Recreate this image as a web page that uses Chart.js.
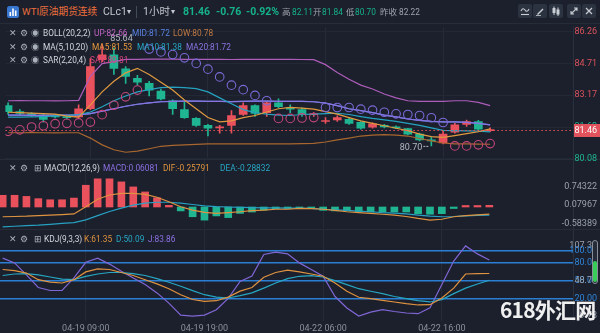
<!DOCTYPE html>
<html>
<head>
<meta charset="utf-8">
<script src="https://cdn.jsdelivr.net/npm/chart.js@4.4.1/dist/chart.umd.min.js"></script>
<style>
  html, body { margin: 0; padding: 0; background: #1b202c; }
  #wrap { position: relative; width: 600px; height: 333px; overflow: hidden; background: #1b202c;
          font-family: Roboto, "Noto Sans CJK SC", sans-serif; }
  canvas { position: absolute; left: 0; }
  .t { position: absolute; white-space: nowrap; line-height: 12px; }
  .btn { position: absolute; top: 4px; width: 14px; height: 14px; border-radius: 2px; background: #2b3341; }
  .btn svg { position: absolute; left: 2px; top: 2px; }
  .sep { position: absolute; left: 0; width: 600px; height: 1px; background: #262c38; }
</style>
</head>
<body>
<div id="wrap">
  <div class="sep" style="top:23px"></div>
  <div class="sep" style="top:159px"></div>
  <div class="sep" style="top:229px"></div>
  <canvas id="main" width="600" height="143" style="top:22px"></canvas>
  <canvas id="macd" width="600" height="70" style="top:159px"></canvas>
  <canvas id="kdj" width="600" height="104" style="top:229px"></canvas>

  <svg style="position:absolute;left:7px;top:6px" width="12" height="12">
    <rect width="12" height="12" rx="2.5" fill="#3877cf"/>
    <rect x="2.5" y="6" width="1.6" height="4" fill="#fff"/>
    <rect x="5.2" y="2.5" width="1.6" height="7.5" fill="#fff"/>
    <rect x="7.9" y="4.5" width="1.6" height="5.5" fill="#fff"/>
  </svg>
  <div style="position:absolute;left:136px;top:6px;width:1px;height:12px;background:#454c59"></div>

  <div class="btn" style="left:518px"><svg width="10" height="10"><path d="M1 5 Q3 1 5 4 T9 3" stroke="#c9cdd4" fill="none" stroke-width="1.1"/><path d="M1 8.5 H9" stroke="#c9cdd4" stroke-width="1.1"/></svg></div>
  <div class="btn" style="left:533px"><svg width="10" height="10"><path d="M2 8 L7.5 2.5 L8.5 3.5 L3 9 Z" fill="#c9cdd4"/><path d="M1 9.5 H6" stroke="#c9cdd4" stroke-width="0.8"/></svg></div>
  <div class="btn" style="left:549px"><svg width="10" height="10"><rect x="1.5" y="2" width="3" height="5" fill="#c9cdd4"/><path d="M3 0.5 V9" stroke="#c9cdd4"/><rect x="5.5" y="3.5" width="3" height="5" fill="#c9cdd4"/><path d="M7 1.5 V10" stroke="#c9cdd4"/></svg></div>
  <div class="btn" style="left:567px"><svg width="10" height="10"><path d="M2 8 L8 2 M5 2 H8 V5 M2 5 V8 H5" stroke="#c9cdd4" fill="none" stroke-width="1.1"/></svg></div>
  <div class="btn" style="left:582px"><svg width="10" height="10"><path d="M2 2 L8 8 M8 2 L2 8" stroke="#c9cdd4" stroke-width="1.2"/></svg></div>

  <div style="position:absolute;left:592px;top:240px;width:4px;height:42px;border:1px solid #8a909a;border-radius:3px;background:#262c37"></div>
  <div style="position:absolute;left:593px;top:261px;width:4px;height:21px;background:#38cc58;border-radius:2px"></div>
  <div style="position:absolute;left:500px;top:294px;font:bold 21px 'Noto Sans CJK SC';color:rgba(255,255,255,0.93);letter-spacing:-0.8px;white-space:nowrap">618外汇网</div>
</div>

<script>
// time axis
const timeLabels = ['04-19 09:00', '04-19 19:00', '04-22 06:00', '04-22 16:00'];
const timeTicks = [7, 17, 27, 37];

// candles (1h)
const open  = [82.66, 82.37, 82.28, 82.20, 82.16, 82.11, 82.11, 82.51, 84.90, 85.14, 84.45, 83.99, 83.75, 83.37, 82.90, 82.47, 82.04, 81.70, 81.58, 81.70, 82.23, 82.66, 82.32, 82.80, 82.56, 82.47, 82.22, 81.89, 81.97, 81.99, 81.85, 81.61, 81.70, 81.63, 81.54, 81.27, 80.99, 80.84, 81.37, 81.75, 81.89, 81.44];
const high  = [82.80, 82.47, 82.32, 82.28, 82.20, 82.16, 82.70, 84.95, 85.64, 85.47, 84.57, 84.14, 83.85, 83.47, 82.94, 82.85, 82.08, 81.75, 81.70, 82.42, 82.80, 82.70, 82.85, 82.99, 82.70, 82.56, 82.32, 82.08, 82.16, 82.04, 81.89, 81.82, 81.75, 81.68, 81.56, 81.32, 81.13, 81.42, 81.80, 81.96, 81.94, 81.58];
const low   = [82.23, 82.18, 82.13, 81.85, 82.06, 82.01, 82.08, 82.47, 84.81, 84.18, 83.75, 83.66, 83.13, 82.94, 82.23, 82.04, 81.65, 81.18, 81.32, 81.32, 82.18, 82.13, 82.13, 82.56, 82.32, 82.13, 82.14, 81.80, 81.89, 81.75, 81.51, 81.56, 81.58, 81.54, 81.23, 80.94, 80.70, 80.80, 81.32, 81.65, 81.46, 81.39];
const close = [82.37, 82.28, 82.20, 81.99, 82.11, 82.08, 82.51, 84.57, 85.14, 84.47, 84.09, 83.80, 83.42, 82.99, 82.51, 82.08, 81.70, 81.56, 81.61, 82.18, 82.66, 82.28, 82.80, 82.61, 82.49, 82.23, 82.27, 81.92, 82.08, 81.80, 81.56, 81.77, 81.63, 81.58, 81.27, 80.99, 80.94, 81.27, 81.73, 81.89, 81.51, 81.46];
const prevClose = 82.22;

// MA / BOLL / SAR
const ma5  = [82.34, 82.32, 82.30, 82.27, 82.25, 82.15, 82.10, 82.70, 83.33, 83.85, 84.26, 84.48, 84.18, 83.80, 83.42, 82.94, 82.51, 82.08, 81.87, 81.92, 82.08, 82.18, 82.35, 82.51, 82.58, 82.54, 82.49, 82.37, 82.25, 82.08, 81.92, 81.80, 81.68, 81.56, 81.44, 81.27, 81.15, 81.11, 81.20, 81.30, 81.39, 81.53];
const ma10 = [82.10, 82.10, 82.11, 82.13, 82.16, 82.18, 82.23, 82.35, 82.61, 82.90, 83.13, 83.33, 83.44, 83.54, 83.56, 83.54, 83.49, 83.33, 83.04, 82.75, 82.47, 82.32, 82.25, 82.20, 82.18, 82.23, 82.25, 82.27, 82.29, 82.23, 82.13, 82.04, 81.97, 81.89, 81.80, 81.70, 81.58, 81.46, 81.44, 81.43, 81.42, 81.38];
const ma20 = [82.20, 82.20, 82.19, 82.19, 82.20, 82.20, 82.21, 82.27, 82.39, 82.51, 82.63, 82.73, 82.80, 82.85, 82.87, 82.88, 82.88, 82.87, 82.87, 82.86, 82.87, 82.88, 82.88, 82.87, 82.87, 82.87, 82.85, 82.78, 82.66, 82.51, 82.42, 82.32, 82.20, 82.11, 82.01, 81.94, 81.89, 81.87, 81.87, 81.85, 81.80, 81.72];
const bollUp  = [82.90, 82.91, 82.90, 82.90, 82.89, 82.90, 82.92, 84.09, 84.71, 84.81, 84.92, 84.92, 84.93, 84.93, 84.93, 84.92, 84.92, 84.92, 84.92, 84.91, 84.92, 84.92, 84.92, 84.92, 84.92, 84.91, 84.90, 84.66, 84.28, 83.95, 83.66, 83.47, 83.23, 83.04, 82.90, 82.87, 82.87, 82.87, 82.90, 82.90, 82.82, 82.66];
const bollLow = [81.34, 81.34, 81.35, 81.34, 81.33, 81.34, 81.34, 81.08, 80.75, 80.51, 80.39, 80.44, 80.56, 80.68, 80.72, 80.75, 80.77, 80.80, 80.80, 80.80, 80.80, 80.80, 80.80, 80.80, 80.80, 80.81, 80.82, 80.89, 80.99, 81.08, 81.18, 81.22, 81.25, 81.22, 81.18, 81.06, 80.94, 80.84, 80.80, 80.80, 80.79, 80.78];
const sar = [81.41, 81.48, 81.62, 81.68, 81.78, 81.80, 81.82, 81.86, 82.22, 82.68, 83.09, 83.42, 85.42, 85.28, 85.15, 84.99, 84.72, 84.44, 84.06, 83.66, 83.44, 83.16, 82.90, 82.04, 82.04, 82.06, 82.08, 82.57, 82.57, 82.57, 82.49, 82.44, 82.34, 82.26, 82.23, 82.18, 82.07, 81.84, 80.70, 80.70, 80.75, 80.81];

// MACD(12,26,9)
const macd = [0.42, 0.42, 0.38, 0.30, 0.26, 0.26, 0.32, 0.78, 1.01, 1.01, 0.90, 0.72, 0.54, 0.33, 0.06, -0.14, -0.35, -0.47, -0.32, -0.38, -0.23, -0.18, -0.11, -0.06, -0.04, -0.04, -0.03, -0.12, -0.14, -0.14, -0.17, -0.18, -0.18, -0.18, -0.18, -0.24, -0.26, -0.24, -0.05, 0.04, 0.05, 0.06081];
const dif  = [-0.35, -0.34, -0.33, -0.31, -0.29, -0.27, -0.25, 0.01, 0.28, 0.43, 0.49, 0.49, 0.45, 0.35, 0.19, 0.01, -0.11, -0.19, -0.23, -0.20, -0.17, -0.13, -0.11, -0.08, -0.08, -0.05, -0.06, -0.08, -0.12, -0.17, -0.20, -0.23, -0.26, -0.29, -0.34, -0.41, -0.47, -0.44, -0.35, -0.31, -0.28, -0.25791];
const dea  = [-0.71, -0.69, -0.67, -0.65, -0.62, -0.59, -0.56, -0.46, -0.31, -0.16, -0.04, 0.07, 0.14, 0.17, 0.17, 0.14, 0.09, 0.04, 0.01, 0.00, -0.01, -0.02, -0.03, -0.03, -0.04, -0.04, -0.05, -0.08, -0.10, -0.12, -0.15, -0.17, -0.20, -0.22, -0.25, -0.29, -0.33, -0.35, -0.34, -0.32, -0.30, -0.28832];

// KDJ(9,3,3)
const kLine = [68, 66, 62, 51, 47, 45.5, 51, 64, 69, 68, 63, 58, 51, 44, 36, 26, 18, 15, 16, 22, 32, 38, 55, 63, 67, 64, 60.5, 56.7, 45.5, 31.7, 21.7, 19.4, 16.7, 13.9, 11, 8.9, 9.4, 20.5, 37, 60.5, 61, 61.35];
const dLine = [58, 60.5, 61, 59, 55.5, 52, 51, 56.5, 60.5, 63, 63, 61, 58, 52.7, 46.7, 40, 32.7, 26, 22, 20.5, 24.5, 29, 37, 45.5, 52.7, 56.7, 57.7, 55.5, 49.4, 42.8, 36, 31.7, 27.8, 23, 19.4, 16, 13.9, 17.8, 27.8, 37, 43.8, 50.09];
const jLine = [87, 79, 59, 38, 33, 33, 54, 80, 87, 77, 65, 54, 43, 29, 12, -8, -9.78, -8, 1, 20, 48, 57, 93, 97, 94, 79, 68, 56.7, 23, 4, -9.5, -3, 1, -2, -4.5, -5.6, 4, 43, 82, 107.32, 94, 83.86];

// axis tick values
const priceTicks = [86.26, 84.71, 83.17, 81.62, 80.08];
const macdTicks = [0.74322, 0.07967, -0.58389];
const kdjTicks = [107.32, 100, 80, 50, 48.77, 20, -9.78];
const kdjLevels = [100, 80, 50, 20];

const RED = '#e9515c', GREEN = '#1fb592';
const GRID = '#252b37';
const idx = close.map((_, i) => i);

Chart.defaults.font.family = 'Roboto, "Noto Sans CJK SC", sans-serif';
Chart.defaults.font.size = 9;

const LINE = { type: 'line', pointRadius: 0, borderWidth: 1.2, fill: false, tension: 0 };
const base = {
  responsive: false, animation: false, devicePixelRatio: 1,
  plugins: { legend: { display: false }, tooltip: { enabled: false } }
};

function xAxis(showLabels) {
  return {
    type: 'linear', min: -0.2275, max: 48.05, offset: false,
    afterBuildTicks: s => { s.ticks = timeTicks.map(v => ({ value: v })); },
    afterFit: s => { s.height = showLabels ? 12 : 0; s.paddingLeft = 0; s.paddingRight = 0; },
    grid: { color: GRID, drawTicks: false, offset: false },
    border: { display: false },
    ticks: { display: showLabels, color: '#8a909b', padding: 2, maxRotation: 0, autoSkip: false,
             callback: v => timeLabels[timeTicks.indexOf(v)] }
  };
}

// labels are mirrored and right aligned at the canvas edge, like the terminal does
function yAxis(min, max, vals, fmt, color, grid) {
  return {
    position: 'right', min, max,
    afterBuildTicks: s => { s.ticks = vals.map(v => ({ value: v })); },
    afterFit: s => { s.width = 24; s.paddingTop = 0; s.paddingBottom = 0; },
    grid,
    border: { color: '#2a313e' },
    ticks: { color, mirror: true, padding: 24, crossAlign: 'near', autoSkip: false, callback: fmt }
  };
}

// last price line and high / low marks
const priceMarks = {
  id: 'priceMarks',
  afterDraw(chart) {
    const { ctx, chartArea: a, scales: { x, y } } = chart;
    const last = close[close.length - 1];
    const py = Math.round(y.getPixelForValue(last)) + 0.5;
    ctx.save();
    ctx.strokeStyle = RED;
    ctx.lineWidth = 1;
    ctx.setLineDash([1.5, 2.5]);
    ctx.beginPath(); ctx.moveTo(a.left, py); ctx.lineTo(a.right, py); ctx.stroke();
    ctx.setLineDash([]);
    ctx.fillStyle = '#e0525c';
    ctx.fillRect(a.right + 1, py - 6.5, 26, 13);
    ctx.fillStyle = '#fff';
    ctx.font = '9px Roboto';
    ctx.textAlign = 'right'; ctx.textBaseline = 'middle';
    ctx.fillText(last.toFixed(2), 597, py);

    const hi = Math.max(...high), hiI = high.indexOf(hi);
    const lo = Math.min(...low), loI = low.indexOf(lo);
    ctx.fillStyle = '#b3b8c1';
    ctx.textAlign = 'left';
    ctx.fillText(hi.toFixed(2), x.getPixelForValue(hiI) + 8, y.getPixelForValue(hi) - 6);
    const lx = x.getPixelForValue(loI), ly = y.getPixelForValue(lo);
    ctx.textAlign = 'right';
    ctx.fillText(lo.toFixed(2), lx - 9, ly + 2);
    ctx.strokeStyle = '#b3b8c1';
    ctx.setLineDash([2, 1]);
    ctx.beginPath(); ctx.moveTo(lx - 8, ly + 0.5); ctx.lineTo(lx - 2, ly + 0.5); ctx.stroke();
    ctx.restore();
  }
};

new Chart(document.getElementById('main'), {
  type: 'bar',
  data: {
    labels: idx,
    datasets: [
      { type: 'line', data: sar, showLine: false, pointRadius: 4.3, pointBorderWidth: 1.1,
        pointBackgroundColor: 'transparent',
        pointBorderColor: c => sar[c.dataIndex] < close[c.dataIndex] ? '#c4467a' : '#7b69d6' },
      { ...LINE, data: ma5, borderColor: '#e0993f' },
      { ...LINE, data: ma10, borderColor: '#26a2c0' },
      { ...LINE, data: ma20, borderColor: '#8a74e2' },
      { ...LINE, data: ma20, borderColor: '#5b7fe0' },
      { ...LINE, data: bollUp, borderColor: '#ad5cb9' },
      { ...LINE, data: bollLow, borderColor: '#a9662f' },
      { data: idx.map(i => [open[i], close[i]]), barThickness: 8, grouped: false, minBarLength: 1,
        backgroundColor: c => close[c.dataIndex] >= open[c.dataIndex] ? RED : GREEN },
      { data: idx.map(i => [low[i], high[i]]), barThickness: 1, grouped: false,
        backgroundColor: c => close[c.dataIndex] >= open[c.dataIndex] ? RED : GREEN }
    ]
  },
  options: {
    ...base,
    layout: { padding: { top: 3, bottom: 5, left: 0, right: 3 } },
    scales: {
      x: xAxis(false),
      y: yAxis(80.031, 86.475, priceTicks, v => v.toFixed(2),
               c => c.tick.value >= prevClose ? '#d9525d' : GREEN,
               { color: '#222834', drawTicks: false })
    }
  },
  plugins: [priceMarks]
});

new Chart(document.getElementById('macd'), {
  type: 'bar',
  data: {
    labels: idx,
    datasets: [
      { ...LINE, data: dif, borderColor: '#df9240' },
      { ...LINE, data: dea, borderColor: '#27a0c2' },
      { data: macd, barThickness: 7, minBarLength: 1.5,
        backgroundColor: c => macd[c.dataIndex] >= 0 ? RED : GREEN }
    ]
  },
  options: {
    ...base,
    layout: { padding: { top: 1, bottom: 1, left: 0, right: 3 } },
    scales: {
      x: xAxis(false),
      y: yAxis(-0.753, 1.685, macdTicks, v => v.toFixed(5), '#9ba1ab', { display: false })
    }
  }
});

new Chart(document.getElementById('kdj'), {
  type: 'line',
  data: {
    labels: idx,
    datasets: [
      { ...LINE, data: kLine, borderColor: '#df9240' },
      { ...LINE, data: dLine, borderColor: '#27a6c2' },
      { ...LINE, data: jLine, borderColor: '#8166d6' }
    ]
  },
  options: {
    ...base,
    layout: { padding: { top: 1, bottom: 0, left: 0, right: 3 } },
    scales: {
      x: xAxis(true),
      y: yAxis(-17.8, 133.8, kdjTicks, v => v.toFixed(2),
               c => kdjLevels.includes(c.tick.value) ? '#2f84d8' : '#9ba1ab',
               { drawTicks: false, lineWidth: 1.4,
                 color: c => kdjLevels.includes(c.tick && c.tick.value) ? '#2a7ed4' : 'transparent' })
    }
  }
});

// header and indicator legends
const wrap = document.getElementById('wrap');
function label(x, y, text, color, size, weight) {
  const s = document.createElement('span');
  s.className = 't';
  s.textContent = text;
  s.style.left = x + 'px';
  s.style.top = (y - 6) + 'px';
  s.style.color = color;
  s.style.fontSize = (size || 8.3) + 'px';
  if (weight) s.style.fontWeight = weight;
  wrap.appendChild(s);
}

const GRAY = '#c3c7cf', DIM = '#9ea3ad', UPC = '#16b28b';
label(22, 12, 'WTI原油期货连续', '#ec6f3b', 9.7);
label(103, 12, 'CLc1', GRAY, 10.5);
label(127, 12, '▾', GRAY, 8);
label(143, 12, '1小时', GRAY, 10.5);
label(171, 12, '▾', GRAY, 8);
label(183, 12, '81.46', UPC, 10.5, 'bold');
label(216, 12, '-0.76', UPC, 10.5, 'bold');
label(246, 12, '-0.92%', UPC, 10.5, 'bold');
label(282, 12, '高', DIM, 8.5);
label(292, 12, '82.11', UPC, 8.3);
label(313, 12, '开', DIM, 8.5);
label(322, 12, '81.84', UPC, 8.3);
label(346, 12, '低', DIM, 8.5);
label(355, 12, '80.70', UPC, 8.3);
label(380, 12, '昨收', DIM, 8.5);
label(399, 12, '82.22', DIM, 8.3);

const ICON = '#aab0b9', NAME = '#d3d7de';
[33, 46.5, 60].forEach(y => {
  label(9, y, '✕', ICON, 8.5);
  label(20, y, '⚙', ICON, 8.5);
  label(31, y, '◉', ICON, 8.5);
});
label(43, 33, 'BOLL(20,2,2)', NAME);
label(94, 33, 'UP:82.66', '#c063c4');
label(132, 33, 'MID:81.72', '#5b82e2');
label(173, 33, 'LOW:80.78', '#c07a44');
label(43, 46.5, 'MA(5,10,20)', NAME);
label(92, 46.5, 'MA5:81.53', '#e8993c');
label(137, 46.5, 'MA10:81.38', '#27a6c4');
label(186, 46.5, 'MA20:81.72', '#8b73e2');
label(43, 60, 'SAR(2,20,4)', NAME);
label(90, 60, 'SAR:80.81', '#d2437c');

[168, 238.5].forEach(y => {
  label(9, y, '✕', ICON, 8.5);
  label(20, y, '⚙', ICON, 8.5);
  label(34, y, '⊞', ICON, 8.5);
});
label(44, 168, 'MACD(12,26,9)', NAME);
label(103, 168, 'MACD:0.06081', '#8c70e2');
label(163, 168, 'DIF:-0.25791', '#e0923e');
label(220, 168, 'DEA:-0.28832', '#27a6c4');
label(44, 238.5, 'KDJ(9,3,3)', NAME);
label(84, 238.5, 'K:61.35', '#e0923e');
label(116, 238.5, 'D:50.09', '#27a6c4');
label(148, 238.5, 'J:83.86', '#8c70e2');
</script>
</body>
</html>
